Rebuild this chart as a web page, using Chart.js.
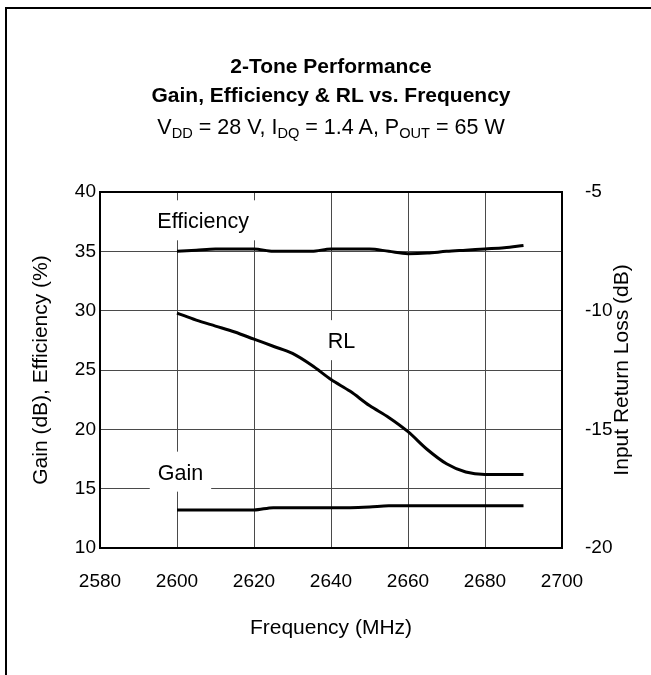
<!DOCTYPE html>
<html>
<head>
<meta charset="utf-8">
<script src="https://cdn.jsdelivr.net/npm/chart.js@4.4.0/dist/chart.umd.min.js"></script>
<style>
  html, body { margin: 0; padding: 0; background: #fff; }
  body { width: 651px; height: 675px; position: relative; overflow: hidden;
         font-family: "Liberation Sans", Arial, sans-serif; color: #000; }
  #frame { position: absolute; left: 5px; top: 7px; width: 700px; height: 700px;
           border-top: 2px solid #000; border-left: 2px solid #000; }
  #chart { position: absolute; left: 0; top: 0; }
  .ttl { position: absolute; left: 0; width: 662px; text-align: center; white-space: nowrap; }
  .t1 { top: 54px; font-size: 21px; line-height: 24px; font-weight: bold; }
  .t2 { top: 83px; font-size: 21px; line-height: 24px; font-weight: bold; }
  .t3 { top: 115px; font-size: 21.5px; line-height: 24px; }
  .t3 sub { font-size: 68%; vertical-align: -0.3em; line-height: 0; }
</style>
</head>
<body>
<div id="frame"></div>
<canvas id="chart" width="651" height="675"></canvas>
<div class="ttl t1">2-Tone Performance</div>
<div class="ttl t2">Gain, Efficiency &amp; RL vs. Frequency</div>
<div class="ttl t3">V<sub>DD</sub> = 28 V, I<sub>DQ</sub> = 1.4 A, P<sub>OUT</sub> = 65 W</div>
<script>
    // Frequency points (MHz)
    const freq = [2600, 2605, 2610, 2615, 2620, 2625, 2630, 2635, 2640, 2645,
                  2650, 2655, 2660, 2665, 2670, 2675, 2680, 2685, 2690];

    // Drain efficiency (%), left axis
    const efficiency = [35.0, 35.1, 35.2, 35.2, 35.2, 35.0, 35.0, 35.0, 35.2, 35.2,
                        35.2, 35.0, 34.8, 34.85, 35.0, 35.1, 35.2, 35.3, 35.5];

    // Gain (dB), left axis
    const gain = [13.2, 13.2, 13.2, 13.2, 13.2, 13.4, 13.4, 13.4, 13.4, 13.4,
                  13.45, 13.55, 13.55, 13.55, 13.55, 13.55, 13.55, 13.55, 13.55];

    // Input return loss (dB), right axis
    const returnLoss = [-10.1, -10.4, -10.65, -10.9, -11.2, -11.5, -11.8, -12.3, -12.9, -13.4,
                        -14.0, -14.5, -15.1, -15.85, -16.45, -16.8, -16.9, -16.9, -16.9];

    // Axis ranges
    const xRange = [2580, 2700];
    const leftRange = [10, 40];
    const rightRange = [-20, -5];

    // Curve labels inside the plot (freq, left-axis value of text baseline)
    const noteText = ['Efficiency', 'RL', 'Gain'];
    const noteFreq = [2606.8, 2642.7, 2600.9];
    const noteLevel = [36.94, 26.84, 15.76];

    const rightTitle = 'Input Return Loss (dB)';

    const FONT = '"Liberation Sans", Arial, sans-serif';

    const toPoints = (ys) => freq.map((f, i) => ({ x: f, y: ys[i] }));

    // white boxes + curve names, plot frame, right axis title (reads upward)
    const plotDecor = {
        id: 'plotDecor',
        beforeDatasetsDraw(chart) {
            const { ctx, scales: { x, y } } = chart;
            ctx.save();
            ctx.font = '21.5px ' + FONT;
            ctx.textAlign = 'center';
            ctx.textBaseline = 'alphabetic';
            noteText.forEach((t, i) => {
                const px = x.getPixelForValue(noteFreq[i]);
                const py = y.getPixelForValue(noteLevel[i]);
                const w = ctx.measureText(t).width + 16;
                ctx.fillStyle = '#fff';
                ctx.fillRect(px - w / 2, py - 28, w, 40);
                ctx.fillStyle = '#000';
                ctx.fillText(t, px, py);
            });
            ctx.restore();
        },
        afterDraw(chart) {
            const { ctx, chartArea: a } = chart;
            ctx.save();
            ctx.strokeStyle = '#000';
            ctx.lineWidth = 2;
            ctx.strokeRect(a.left, a.top, a.right - a.left, a.bottom - a.top);

            ctx.translate(622, (a.top + a.bottom) / 2);
            ctx.rotate(-Math.PI / 2);
            ctx.font = '21px ' + FONT;
            ctx.fillStyle = '#000';
            ctx.textAlign = 'center';
            ctx.textBaseline = 'middle';
            ctx.fillText(rightTitle, 0, 0);
            ctx.restore();
        }
    };

    const lineStyle = {
        borderColor: '#000',
        borderWidth: 3,
        pointRadius: 0,
        fill: false,
        cubicInterpolationMode: 'monotone'
    };

    const ctx = document.getElementById('chart').getContext('2d');
    const myChart = new Chart(ctx, {
        type: 'line',
        data: {
            datasets: [
                { label: 'Efficiency', data: toPoints(efficiency), yAxisID: 'y', ...lineStyle },
                { label: 'Gain', data: toPoints(gain), yAxisID: 'y', ...lineStyle },
                { label: 'RL', data: toPoints(returnLoss), yAxisID: 'y1', ...lineStyle }
            ]
        },
        options: {
            responsive: false,
            animation: false,
            devicePixelRatio: 1,
            layout: { padding: { left: 0, right: 0, top: 192, bottom: 0 } },
            plugins: {
                legend: { display: false },
                tooltip: { enabled: false }
            },
            scales: {
                x: {
                    type: 'linear',
                    min: xRange[0],
                    max: xRange[1],
                    grid: { color: '#4a4a4a', lineWidth: 1, drawTicks: false },
                    border: { display: false },
                    ticks: {
                        stepSize: 20,
                        color: '#000',
                        font: { family: FONT, size: 19 },
                        padding: 22,
                        maxRotation: 0,
                        callback: (v) => String(v)
                    },
                    title: {
                        display: true,
                        text: 'Frequency (MHz)',
                        color: '#000',
                        font: { family: FONT, size: 21 },
                        padding: { top: 0, bottom: 34 }
                    },
                    afterFit(s) { s.height = 127; }
                },
                y: {
                    position: 'left',
                    min: leftRange[0],
                    max: leftRange[1],
                    grid: { color: '#4a4a4a', lineWidth: 1, drawTicks: false },
                    border: { display: false },
                    ticks: {
                        stepSize: 5,
                        color: '#000',
                        font: { family: FONT, size: 19 },
                        padding: 4
                    },
                    title: {
                        display: true,
                        text: 'Gain (dB), Efficiency (%)',
                        color: '#000',
                        font: { family: FONT, size: 21 },
                        padding: { top: 29, bottom: 0 }
                    },
                    afterFit(s) { s.width = 100; }
                },
                y1: {
                    position: 'right',
                    min: rightRange[0],
                    max: rightRange[1],
                    grid: { display: false },
                    border: { display: false },
                    ticks: {
                        stepSize: 5,
                        color: '#000',
                        font: { family: FONT, size: 19 },
                        padding: 15
                    },
                    title: { display: false },
                    afterFit(s) { s.width = 89; }
                }
            }
        },
        plugins: [plotDecor]
    });
</script>
</body>
</html>
